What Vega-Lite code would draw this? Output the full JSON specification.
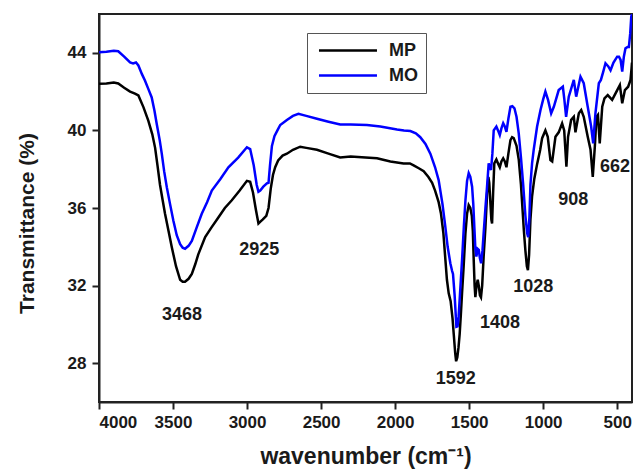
{
  "$schema": "https://vega.github.io/schema/vega-lite/v6.json",
  "width": 533,
  "height": 388,
  "autosize": {"type": "none"},
  "padding": {"left": 99, "top": 14, "right": 1, "bottom": 68},
  "background": "white",
  "config": {
    "font": "Liberation Sans",
    "view": {"stroke": "#222", "strokeWidth": 2},
    "axis": {
      "domainColor": "#222", "domainWidth": 2, "tickColor": "#222", "tickWidth": 2, "tickSize": 7,
      "labelFont": "Liberation Sans", "labelFontWeight": "bold", "labelFontSize": 17, "labelColor": "#1a1a1a",
      "titleFont": "Liberation Sans", "titleFontWeight": "bold", "titleColor": "#1a1a1a", "grid": false
    },
    "legend": {"strokeColor": "#555", "fillColor": "white", "padding": 8}
  },
  "layer": [
    {
      "data": {"values": [
        {"s":"MP","wn":4000,"t":42.4},{"s":"MP","wn":3950,"t":42.42},{"s":"MP","wn":3900,"t":42.47},{"s":"MP","wn":3870,"t":42.42},{"s":"MP","wn":3830,"t":42.2},{"s":"MP","wn":3790,"t":42.0},{"s":"MP","wn":3757,"t":41.9},{"s":"MP","wn":3734,"t":41.8},{"s":"MP","wn":3700,"t":41.2},{"s":"MP","wn":3667,"t":40.5},{"s":"MP","wn":3640,"t":39.8},{"s":"MP","wn":3621,"t":39.1},{"s":"MP","wn":3605,"t":38.2},{"s":"MP","wn":3588,"t":37.2},{"s":"MP","wn":3570,"t":36.4},{"s":"MP","wn":3554,"t":35.7},{"s":"MP","wn":3530,"t":34.8},{"s":"MP","wn":3509,"t":34.0},{"s":"MP","wn":3480,"t":33.0},{"s":"MP","wn":3452,"t":32.3},{"s":"MP","wn":3435,"t":32.2},{"s":"MP","wn":3419,"t":32.2},{"s":"MP","wn":3395,"t":32.35},{"s":"MP","wn":3373,"t":32.6},{"s":"MP","wn":3350,"t":33.1},{"s":"MP","wn":3330,"t":33.6},{"s":"MP","wn":3283,"t":34.5},{"s":"MP","wn":3240,"t":35.0},{"s":"MP","wn":3195,"t":35.5},{"s":"MP","wn":3150,"t":36.0},{"s":"MP","wn":3103,"t":36.4},{"s":"MP","wn":3050,"t":36.9},{"s":"MP","wn":3001,"t":37.4},{"s":"MP","wn":2979,"t":37.35},{"s":"MP","wn":2960,"t":36.8},{"s":"MP","wn":2940,"t":35.9},{"s":"MP","wn":2923,"t":35.2},{"s":"MP","wn":2910,"t":35.3},{"s":"MP","wn":2895,"t":35.4},{"s":"MP","wn":2870,"t":35.6},{"s":"MP","wn":2855,"t":36.0},{"s":"MP","wn":2840,"t":37.0},{"s":"MP","wn":2825,"t":37.7},{"s":"MP","wn":2810,"t":38.1},{"s":"MP","wn":2790,"t":38.45},{"s":"MP","wn":2760,"t":38.7},{"s":"MP","wn":2731,"t":38.8},{"s":"MP","wn":2690,"t":39.0},{"s":"MP","wn":2641,"t":39.16},{"s":"MP","wn":2600,"t":39.1},{"s":"MP","wn":2528,"t":39.0},{"s":"MP","wn":2450,"t":38.8},{"s":"MP","wn":2371,"t":38.6},{"s":"MP","wn":2300,"t":38.65},{"s":"MP","wn":2200,"t":38.6},{"s":"MP","wn":2122,"t":38.56},{"s":"MP","wn":2032,"t":38.4},{"s":"MP","wn":1943,"t":38.3},{"s":"MP","wn":1900,"t":38.3},{"s":"MP","wn":1875,"t":38.2},{"s":"MP","wn":1840,"t":38.05},{"s":"MP","wn":1807,"t":37.9},{"s":"MP","wn":1775,"t":37.6},{"s":"MP","wn":1750,"t":37.3},{"s":"MP","wn":1730,"t":36.9},{"s":"MP","wn":1706,"t":36.3},{"s":"MP","wn":1690,"t":35.7},{"s":"MP","wn":1674,"t":34.7},{"s":"MP","wn":1660,"t":33.3},{"s":"MP","wn":1650,"t":32.3},{"s":"MP","wn":1638,"t":31.6},{"s":"MP","wn":1625,"t":31.2},{"s":"MP","wn":1612,"t":30.3},{"s":"MP","wn":1604,"t":29.5},{"s":"MP","wn":1594,"t":28.5},{"s":"MP","wn":1588,"t":28.1},{"s":"MP","wn":1580,"t":28.3},{"s":"MP","wn":1572,"t":28.8},{"s":"MP","wn":1564,"t":29.5},{"s":"MP","wn":1556,"t":30.5},{"s":"MP","wn":1548,"t":31.6},{"s":"MP","wn":1537,"t":33.0},{"s":"MP","wn":1525,"t":34.7},{"s":"MP","wn":1514,"t":35.7},{"s":"MP","wn":1503,"t":36.15},{"s":"MP","wn":1492,"t":36.0},{"s":"MP","wn":1482,"t":35.6},{"s":"MP","wn":1475,"t":34.8},{"s":"MP","wn":1469,"t":33.3},{"s":"MP","wn":1463,"t":32.0},{"s":"MP","wn":1458,"t":31.4},{"s":"MP","wn":1450,"t":32.0},{"s":"MP","wn":1442,"t":32.3},{"s":"MP","wn":1435,"t":32.0},{"s":"MP","wn":1427,"t":31.5},{"s":"MP","wn":1420,"t":31.4},{"s":"MP","wn":1412,"t":32.0},{"s":"MP","wn":1402,"t":33.5},{"s":"MP","wn":1390,"t":35.0},{"s":"MP","wn":1379,"t":36.7},{"s":"MP","wn":1370,"t":37.6},{"s":"MP","wn":1364,"t":37.3},{"s":"MP","wn":1356,"t":36.2},{"s":"MP","wn":1350,"t":35.4},{"s":"MP","wn":1345,"t":35.2},{"s":"MP","wn":1338,"t":36.8},{"s":"MP","wn":1330,"t":38.3},{"s":"MP","wn":1316,"t":38.5},{"s":"MP","wn":1305,"t":38.3},{"s":"MP","wn":1293,"t":38.1},{"s":"MP","wn":1282,"t":38.4},{"s":"MP","wn":1270,"t":38.56},{"s":"MP","wn":1259,"t":38.4},{"s":"MP","wn":1248,"t":38.1},{"s":"MP","wn":1235,"t":38.8},{"s":"MP","wn":1221,"t":39.5},{"s":"MP","wn":1210,"t":39.65},{"s":"MP","wn":1199,"t":39.6},{"s":"MP","wn":1180,"t":39.2},{"s":"MP","wn":1165,"t":38.5},{"s":"MP","wn":1150,"t":37.2},{"s":"MP","wn":1140,"t":36.0},{"s":"MP","wn":1130,"t":34.8},{"s":"MP","wn":1120,"t":33.8},{"s":"MP","wn":1110,"t":33.0},{"s":"MP","wn":1103,"t":32.8},{"s":"MP","wn":1095,"t":33.6},{"s":"MP","wn":1086,"t":35.4},{"s":"MP","wn":1075,"t":36.6},{"s":"MP","wn":1060,"t":37.5},{"s":"MP","wn":1040,"t":38.3},{"s":"MP","wn":1020,"t":39.0},{"s":"MP","wn":1007,"t":39.6},{"s":"MP","wn":985,"t":40.0},{"s":"MP","wn":969,"t":39.67},{"s":"MP","wn":951,"t":38.47},{"s":"MP","wn":939,"t":38.4},{"s":"MP","wn":917,"t":39.67},{"s":"MP","wn":895,"t":39.9},{"s":"MP","wn":872,"t":40.36},{"s":"MP","wn":858,"t":40.0},{"s":"MP","wn":843,"t":38.13},{"s":"MP","wn":832,"t":39.67},{"s":"MP","wn":811,"t":40.54},{"s":"MP","wn":793,"t":40.7},{"s":"MP","wn":782,"t":39.9},{"s":"MP","wn":759,"t":40.88},{"s":"MP","wn":743,"t":41.05},{"s":"MP","wn":726,"t":40.7},{"s":"MP","wn":699,"t":39.67},{"s":"MP","wn":680,"t":39.0},{"s":"MP","wn":665,"t":37.6},{"s":"MP","wn":651,"t":39.16},{"s":"MP","wn":640,"t":40.7},{"s":"MP","wn":630,"t":40.8},{"s":"MP","wn":618,"t":39.33},{"s":"MP","wn":601,"t":41.22},{"s":"MP","wn":586,"t":41.65},{"s":"MP","wn":564,"t":41.82},{"s":"MP","wn":534,"t":41.57},{"s":"MP","wn":505,"t":42.0},{"s":"MP","wn":482,"t":42.34},{"s":"MP","wn":466,"t":41.4},{"s":"MP","wn":448,"t":42.08},{"s":"MP","wn":426,"t":42.25},{"s":"MP","wn":410,"t":42.6},{"s":"MP","wn":403,"t":43.2},{"s":"MP","wn":400,"t":43.5},
        {"s":"MO","wn":4000,"t":44.03},{"s":"MO","wn":3950,"t":44.05},{"s":"MO","wn":3900,"t":44.1},{"s":"MO","wn":3870,"t":44.08},{"s":"MO","wn":3830,"t":43.8},{"s":"MO","wn":3790,"t":43.5},{"s":"MO","wn":3770,"t":43.45},{"s":"MO","wn":3750,"t":43.5},{"s":"MO","wn":3734,"t":43.35},{"s":"MO","wn":3710,"t":42.9},{"s":"MO","wn":3689,"t":42.56},{"s":"MO","wn":3665,"t":42.1},{"s":"MO","wn":3644,"t":41.7},{"s":"MO","wn":3625,"t":41.0},{"s":"MO","wn":3610,"t":40.33},{"s":"MO","wn":3590,"t":39.5},{"s":"MO","wn":3576,"t":38.8},{"s":"MO","wn":3560,"t":37.9},{"s":"MO","wn":3542,"t":37.07},{"s":"MO","wn":3520,"t":36.2},{"s":"MO","wn":3498,"t":35.35},{"s":"MO","wn":3475,"t":34.6},{"s":"MO","wn":3452,"t":34.14},{"s":"MO","wn":3435,"t":33.95},{"s":"MO","wn":3419,"t":33.9},{"s":"MO","wn":3395,"t":34.05},{"s":"MO","wn":3373,"t":34.3},{"s":"MO","wn":3340,"t":35.0},{"s":"MO","wn":3306,"t":35.7},{"s":"MO","wn":3270,"t":36.3},{"s":"MO","wn":3238,"t":36.9},{"s":"MO","wn":3180,"t":37.5},{"s":"MO","wn":3126,"t":38.1},{"s":"MO","wn":3060,"t":38.6},{"s":"MO","wn":3001,"t":39.13},{"s":"MO","wn":2979,"t":39.04},{"s":"MO","wn":2955,"t":38.2},{"s":"MO","wn":2935,"t":37.2},{"s":"MO","wn":2923,"t":36.84},{"s":"MO","wn":2911,"t":36.9},{"s":"MO","wn":2890,"t":37.1},{"s":"MO","wn":2866,"t":37.27},{"s":"MO","wn":2855,"t":37.3},{"s":"MO","wn":2845,"t":38.2},{"s":"MO","wn":2832,"t":39.2},{"s":"MO","wn":2815,"t":39.7},{"s":"MO","wn":2795,"t":40.0},{"s":"MO","wn":2776,"t":40.28},{"s":"MO","wn":2731,"t":40.54},{"s":"MO","wn":2690,"t":40.75},{"s":"MO","wn":2653,"t":40.85},{"s":"MO","wn":2600,"t":40.75},{"s":"MO","wn":2528,"t":40.6},{"s":"MO","wn":2450,"t":40.45},{"s":"MO","wn":2371,"t":40.3},{"s":"MO","wn":2300,"t":40.3},{"s":"MO","wn":2190,"t":40.28},{"s":"MO","wn":2100,"t":40.2},{"s":"MO","wn":1987,"t":40.05},{"s":"MO","wn":1940,"t":40.0},{"s":"MO","wn":1897,"t":39.97},{"s":"MO","wn":1860,"t":39.85},{"s":"MO","wn":1830,"t":39.65},{"s":"MO","wn":1795,"t":39.3},{"s":"MO","wn":1762,"t":38.8},{"s":"MO","wn":1730,"t":38.1},{"s":"MO","wn":1706,"t":37.44},{"s":"MO","wn":1680,"t":36.2},{"s":"MO","wn":1661,"t":35.04},{"s":"MO","wn":1645,"t":34.0},{"s":"MO","wn":1627,"t":33.15},{"s":"MO","wn":1615,"t":32.75},{"s":"MO","wn":1609,"t":32.6},{"s":"MO","wn":1598,"t":31.5},{"s":"MO","wn":1586,"t":29.88},{"s":"MO","wn":1578,"t":29.9},{"s":"MO","wn":1571,"t":30.4},{"s":"MO","wn":1560,"t":31.8},{"s":"MO","wn":1548,"t":33.3},{"s":"MO","wn":1536,"t":35.0},{"s":"MO","wn":1525,"t":36.4},{"s":"MO","wn":1514,"t":37.4},{"s":"MO","wn":1503,"t":37.8},{"s":"MO","wn":1492,"t":37.6},{"s":"MO","wn":1480,"t":37.1},{"s":"MO","wn":1472,"t":36.2},{"s":"MO","wn":1465,"t":35.04},{"s":"MO","wn":1458,"t":33.9},{"s":"MO","wn":1451,"t":33.5},{"s":"MO","wn":1443,"t":33.9},{"s":"MO","wn":1435,"t":33.84},{"s":"MO","wn":1427,"t":33.4},{"s":"MO","wn":1419,"t":33.15},{"s":"MO","wn":1410,"t":33.8},{"s":"MO","wn":1402,"t":34.7},{"s":"MO","wn":1390,"t":36.0},{"s":"MO","wn":1379,"t":37.1},{"s":"MO","wn":1368,"t":38.3},{"s":"MO","wn":1360,"t":38.1},{"s":"MO","wn":1352,"t":37.96},{"s":"MO","wn":1343,"t":38.8},{"s":"MO","wn":1334,"t":40.0},{"s":"MO","wn":1316,"t":40.2},{"s":"MO","wn":1305,"t":40.0},{"s":"MO","wn":1293,"t":39.76},{"s":"MO","wn":1282,"t":40.1},{"s":"MO","wn":1270,"t":40.37},{"s":"MO","wn":1259,"t":40.2},{"s":"MO","wn":1248,"t":39.93},{"s":"MO","wn":1235,"t":40.6},{"s":"MO","wn":1221,"t":41.22},{"s":"MO","wn":1208,"t":41.25},{"s":"MO","wn":1194,"t":41.14},{"s":"MO","wn":1180,"t":40.7},{"s":"MO","wn":1165,"t":39.85},{"s":"MO","wn":1150,"t":38.6},{"s":"MO","wn":1135,"t":37.2},{"s":"MO","wn":1120,"t":35.6},{"s":"MO","wn":1108,"t":34.7},{"s":"MO","wn":1101,"t":34.5},{"s":"MO","wn":1093,"t":35.5},{"s":"MO","wn":1086,"t":37.2},{"s":"MO","wn":1075,"t":38.3},{"s":"MO","wn":1064,"t":39.0},{"s":"MO","wn":1041,"t":40.2},{"s":"MO","wn":1018,"t":41.05},{"s":"MO","wn":1000,"t":41.6},{"s":"MO","wn":985,"t":42.0},{"s":"MO","wn":967,"t":41.57},{"s":"MO","wn":946,"t":40.88},{"s":"MO","wn":928,"t":41.22},{"s":"MO","wn":895,"t":42.08},{"s":"MO","wn":867,"t":42.25},{"s":"MO","wn":857,"t":41.6},{"s":"MO","wn":845,"t":40.7},{"s":"MO","wn":827,"t":41.74},{"s":"MO","wn":793,"t":42.6},{"s":"MO","wn":777,"t":41.74},{"s":"MO","wn":748,"t":42.77},{"s":"MO","wn":726,"t":42.43},{"s":"MO","wn":699,"t":41.22},{"s":"MO","wn":676,"t":40.2},{"s":"MO","wn":662,"t":39.33},{"s":"MO","wn":647,"t":40.88},{"s":"MO","wn":624,"t":42.43},{"s":"MO","wn":610,"t":42.6},{"s":"MO","wn":595,"t":43.0},{"s":"MO","wn":579,"t":43.46},{"s":"MO","wn":560,"t":43.3},{"s":"MO","wn":545,"t":43.1},{"s":"MO","wn":525,"t":43.5},{"s":"MO","wn":500,"t":43.8},{"s":"MO","wn":488,"t":43.8},{"s":"MO","wn":477,"t":43.63},{"s":"MO","wn":466,"t":43.03},{"s":"MO","wn":455,"t":43.8},{"s":"MO","wn":444,"t":44.23},{"s":"MO","wn":430,"t":44.3},{"s":"MO","wn":421,"t":44.3},{"s":"MO","wn":412,"t":45.0},{"s":"MO","wn":405,"t":45.86},{"s":"MO","wn":400,"t":46.0}
      ]},
      "mark": {"type": "line", "strokeWidth": 2.5, "clip": true},
      "encoding": {
        "x": {"field": "wn", "type": "quantitative", "title": "wavenumber (cm⁻¹)",
          "scale": {"domain": [400, 4000], "reverse": true, "nice": false, "zero": false},
          "axis": {"values": [4000, 3500, 3000, 2500, 2000, 1500, 1000, 500], "format": "d", "titleFontSize": 23, "labelPadding": 5, "titlePadding": 15}},
        "y": {"field": "t", "type": "quantitative", "title": "Transmittance (%)",
          "scale": {"domain": [26, 46], "nice": false, "zero": false},
          "axis": {"values": [28, 32, 36, 40, 44], "format": "d", "titleFontSize": 21, "labelPadding": 6, "titlePadding": 30, "titleY": 209}},
        "color": {"field": "s", "type": "nominal",
          "scale": {"domain": ["MP", "MO"], "range": ["#000000", "#0000ff"]},
          "legend": {"orient": "none", "legendX": 208, "legendY": 19, "title": null,
            "symbolType": "M-0.69,0H6.56", "symbolSize": 256, "symbolStrokeWidth": 2.5,
            "labelFont": "Liberation Sans", "labelFontSize": 18, "labelFontWeight": "bold", "labelColor": "#1a1a1a",
            "labelOffset": 55, "rowPadding": 6,
            "labelExpr": "datum.label + '\u00a0\u00a0'"}}
      }
    },
    {
      "data": {"values": [
        {"wn": 3439, "t": 30.48, "label": "3468"},
        {"wn": 2918, "t": 33.84, "label": "2925"},
        {"wn": 1591, "t": 27.17, "label": "1592"},
        {"wn": 1292, "t": 30.06, "label": "1408"},
        {"wn": 1067, "t": 31.91, "label": "1028"},
        {"wn": 797, "t": 36.41, "label": "908"},
        {"wn": 515, "t": 38.13, "label": "662"}
      ]},
      "mark": {"type": "text", "font": "Liberation Sans", "fontWeight": "bold", "fontSize": 18, "color": "#1a1a1a", "align": "center", "baseline": "middle"},
      "encoding": {
        "x": {"field": "wn", "type": "quantitative", "title": "wavenumber (cm⁻¹)"},
        "y": {"field": "t", "type": "quantitative", "title": "Transmittance (%)"},
        "text": {"field": "label"}
      }
    }
  ]
}
